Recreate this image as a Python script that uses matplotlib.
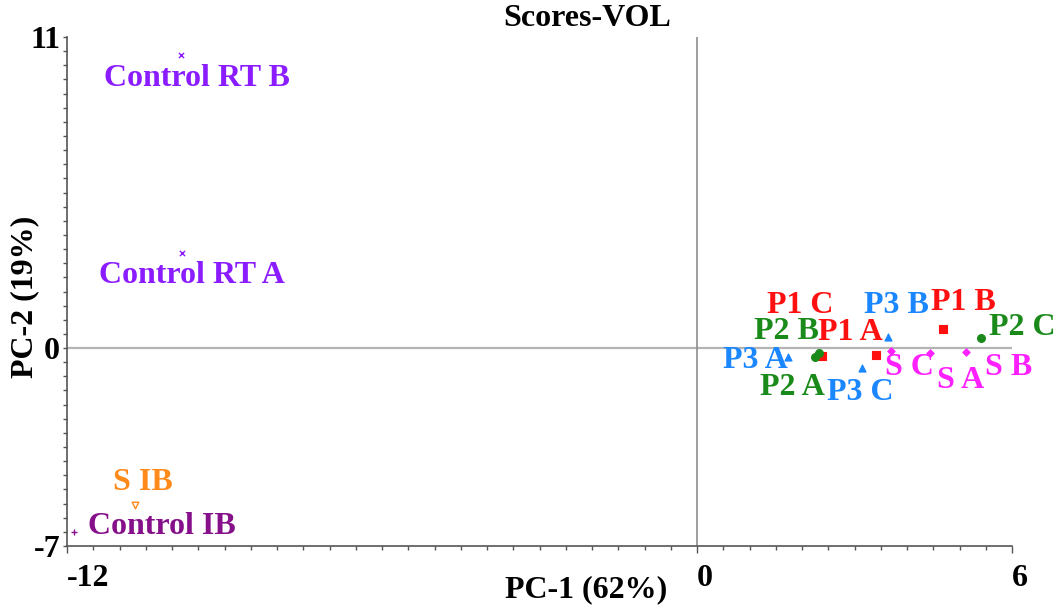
import numpy as np
import matplotlib
matplotlib.use("Agg")
import matplotlib.pyplot as plt
from matplotlib.ticker import MultipleLocator

# ---- data (PCA scores) ---------------------------------------------------
labels = ["Control RT B", "Control RT A", "S IB", "Control IB",
          "P1 A", "P1 B", "P1 C",
          "P2 A", "P2 B", "P2 C",
          "P3 A", "P3 B", "P3 C",
          "S A", "S B", "S C"]
pc1 = [-9.83, -9.81, -10.70, -11.87,
       3.41, 4.68, 2.39,
       2.25, 2.33, 5.41,
       1.74, 3.64, 3.15,
       4.43, 5.12, 3.69]
pc2 = [10.36, 3.36, -5.55, -6.50,
       -0.26, 0.66, -0.28,
       -0.33, -0.17, 0.34,
       -0.33, 0.38, -0.72,
       -0.19, -0.13, -0.10]
groups = ["CRT", "CRT", "SIB", "CIB",
          "P1", "P1", "P1",
          "P2", "P2", "P2",
          "P3", "P3", "P3",
          "S", "S", "S"]

# ---- style -------------------------------------------------------------------
style = {  # colour, marker, size
    "CRT": ("#8a1cff", "x", 14),
    "SIB": ("#ff8a1a", "v", 22),
    "CIB": ("#86108a", "+", 22),
    "P1":  ("#ff1010", "s", 26),
    "P2":  ("#1a8a1a", "o", 32),
    "P3":  ("#1a86ff", "^", 26),
    "S":   ("#ff20ff", "D", 14),
}
# label offsets in pixels (dx, dy) from the point
offs = {"Control RT B": (16, -23), "Control RT A": (10, -22), "S IB": (8, 22),
        "Control IB": (88, 5), "P1 A": (-26, 23), "P1 B": (21, 27),
        "P1 C": (-22, 50), "P2 A": (-23, -30), "P2 B": (-33, 21),
        "P2 C": (41, 11), "P3 A": (-33, -3), "P3 B": (8, 32),
        "P3 C": (-2, -24), "S A": (31, -27), "S B": (43, -16), "S C": (19, -17)}

FONT = "Liberation Serif"
FS = 23

fig = plt.figure(figsize=(10.64, 6.12), dpi=100)
ax = fig.add_axes([67/1064, 66/612, 945/1064, 509/612])

ax.axhline(0, color="#b4b4b4", lw=1.6, zorder=1)
ax.axvline(0, color="#8c8c8c", lw=1.2, zorder=1)

for lab, x, y, g in zip(labels, pc1, pc2, groups):
    c, m, s = style[g]
    lw = 1.0 if m in ("x", "+") else 0.8
    if m == "v":
        ax.scatter(x, y, marker=m, s=s, facecolors="white", edgecolors=c, linewidths=1.0, zorder=3)
    else:
        ax.scatter(x, y, marker=m, s=s, color=c, linewidths=lw, zorder=3)
    dx, dy = offs[lab]
    ax.annotate(lab, (x, y), xytext=(dx, dy), textcoords="offset pixels",
                ha="center", va="center", color=c, fontsize=FS,
                fontfamily=FONT, fontweight="bold", zorder=4)

ax.set_xlim(-12, 6)
ax.set_ylim(-7, 11)
ax.set_xticks([-12, 0, 6])
ax.set_yticks([-7, 0, 11])
ax.xaxis.set_minor_locator(MultipleLocator(0.5))
ax.yaxis.set_minor_locator(MultipleLocator(0.5))
ax.tick_params(which="both", direction="out", length=3, width=1, color="#555555")
ax.tick_params(axis="x", which="major", length=5)
ax.set_xticklabels(["-12", "0", "6"], fontfamily=FONT, fontweight="bold", fontsize=FS)
ax.set_yticklabels(["-7", "0", "11"], fontfamily=FONT, fontweight="bold", fontsize=FS)
for t in ax.get_xticklabels():
    t.set_ha("left")
ax.tick_params(axis="x", pad=8)
ax.tick_params(axis="y", pad=2)

for sp in ("top", "right"):
    ax.spines[sp].set_visible(False)
for sp in ("left", "bottom"):
    ax.spines[sp].set_color("#555555")
    ax.spines[sp].set_linewidth(1.2)

fig.text(587/1064, 1 - 18/612, "Scores-VOL", ha="center", va="center",
         fontfamily=FONT, fontweight="bold", fontsize=FS)
fig.text(586/1064, 1 - 590/612, "PC-1 (62%)", ha="center", va="center",
         fontfamily=FONT, fontweight="bold", fontsize=FS)
fig.text(25/1064, 1 - 297/612, "PC-2 (19%)", ha="center", va="center", rotation=90,
         fontfamily=FONT, fontweight="bold", fontsize=FS)

fig.savefig("out.png", dpi=100)
